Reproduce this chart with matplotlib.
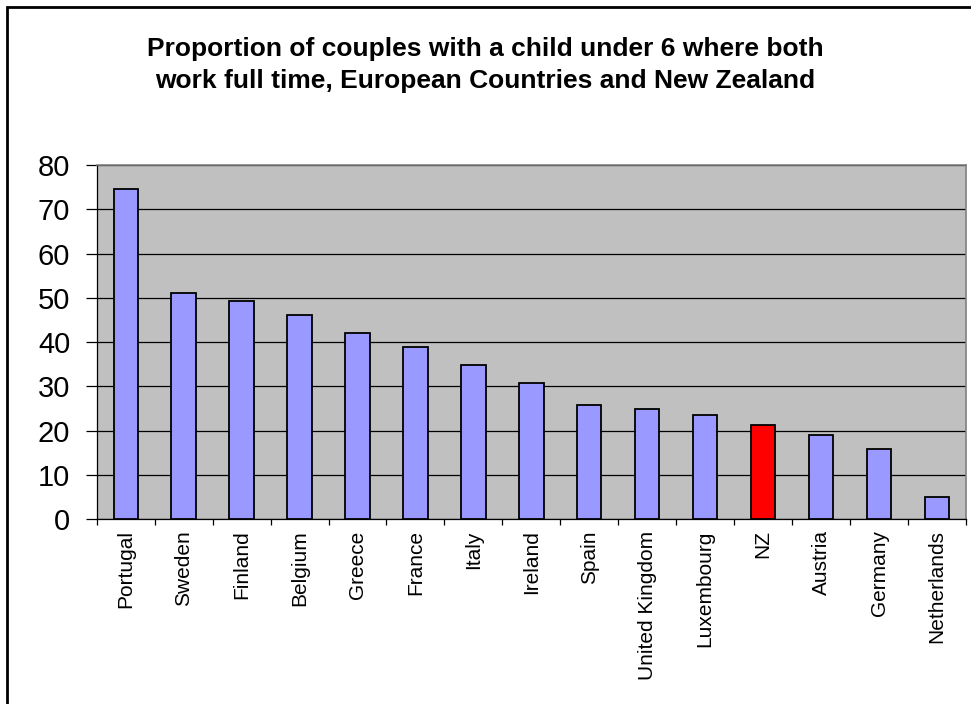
import matplotlib
matplotlib.use("Agg")
import matplotlib.pyplot as plt
from matplotlib.patches import Rectangle

plt.rcParams['font.family'] = ['Liberation Sans', 'DejaVu Sans']

countries = ["Portugal", "Sweden", "Finland", "Belgium", "Greece", "France", "Italy",
             "Ireland", "Spain", "United Kingdom", "Luxembourg", "NZ", "Austria",
             "Germany", "Netherlands"]
values = [74.5, 51.0, 49.2, 46.1, 42.0, 38.9, 34.8, 30.7, 25.7, 24.9, 23.5, 21.2, 19.0, 15.8, 5.0]
highlight = "NZ"

title = ("Proportion of couples with a child under 6 where both\n"
         "work full time, European Countries and New Zealand")

fig = plt.figure(figsize=(9.71, 7.04), dpi=100)

# outer chart frame (runs off the right and bottom edge)
fig.patches.append(Rectangle((7 / 971, -0.05), 1.0, 1 - 7 / 704 + 0.05,
                             transform=fig.transFigure, fill=False,
                             edgecolor="black", linewidth=2.0))

ax = fig.add_axes([96.7 / 971, 1 - 519.3 / 704, (966 - 96.7) / 971, (519.3 - 165) / 704])
ax.set_facecolor("#C0C0C0")

colors = ["#FF0000" if c == highlight else "#9999FF" for c in countries]
x = list(range(len(countries)))
ax.bar(x, values, width=0.42, color=colors, edgecolor="black", linewidth=1.3, zorder=3)

ax.set_xlim(-0.5, len(countries) - 0.5)
ax.set_ylim(0, 80)
ax.set_yticks(range(0, 81, 10))
ax.yaxis.grid(True, color="black", linewidth=0.9, zorder=1)
ax.set_axisbelow(True)

# ticks sit between categories, labels centred under the bars
ax.set_xticks([i - 0.5 for i in range(len(countries) + 1)])
ax.set_xticklabels([])
ax.set_xticks(x, minor=True)
ax.set_xticklabels(countries, minor=True, rotation=90, fontsize=15, va="top", ha="center")
ax.tick_params(axis="x", which="minor", length=0, pad=8)
ax.tick_params(axis="x", which="major", length=4, width=0.9, direction="out")
ax.tick_params(axis="y", length=8, width=0.9, direction="out", labelsize=21, pad=11)

for s in ["top", "right"]:
    ax.spines[s].set_color("#808080")
    ax.spines[s].set_linewidth(1.2)
for s in ["left", "bottom"]:
    ax.spines[s].set_color("black")
    ax.spines[s].set_linewidth(0.9)

fig.text(0.5, 1 - 65 / 704, title, ha="center", va="center",
         fontsize=19, fontweight="bold", linespacing=1.42)

fig.savefig("out.png", dpi=100)
